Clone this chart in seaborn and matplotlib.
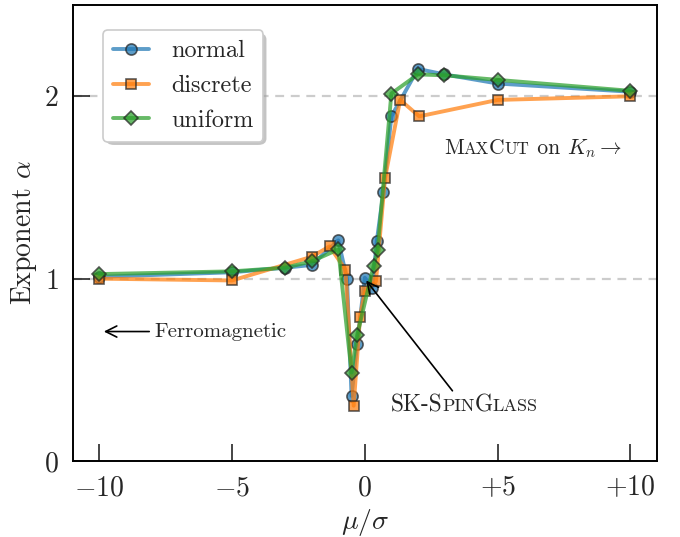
import numpy as np
import pandas as pd
import matplotlib
matplotlib.use("Agg")
import matplotlib.pyplot as plt
import seaborn as sns
from matplotlib.offsetbox import TextArea, HPacker, AnnotationBbox
from matplotlib.ticker import FuncFormatter, FixedLocator
from matplotlib.patches import FancyBboxPatch

# ---- data ----
normal_x = [-10, -5, -3, -2, -1, -0.67, -0.5, -0.29, 0, 0.28, 0.45, 0.7, 1, 2, 3, 5, 10]
normal_y = [1.01, 1.035, 1.06, 1.075, 1.21, 0.998, 0.357, 0.64, 1.005, 0.95, 1.205, 1.475, 1.89, 2.15, 2.12, 2.07, 2.025]

discrete_x = [-10, -5, -2, -1.33, -0.73, -0.42, -0.18, 0, 0.42, 0.76, 1.33, 2.05, 5, 10]
discrete_y = [1.0, 0.99, 1.12, 1.177, 1.05, 0.303, 0.79, 0.93, 0.985, 1.55, 1.98, 1.89, 1.98, 2.0]

uniform_x = [-10, -5, -3, -2, -1, -0.5, -0.29, 0.33, 0.48, 1, 2, 3, 5, 10]
uniform_y = [1.025, 1.04, 1.06, 1.095, 1.16, 0.485, 0.69, 1.07, 1.157, 2.015, 2.12, 2.115, 2.09, 2.03]

series_names = ["normal", "discrete", "uniform"]
series_markers = ["o", "s", "D"]
series_colors = ["#1f77b4", "#ff7f0e", "#2ca02c"]
x_ticks = [-10, -5, 0, 5, 10]
y_ticks = [0, 1, 2]

sns.set_style("white")
plt.rcParams["font.family"] = "serif"
plt.rcParams["font.serif"] = ["cmr10", "DejaVu Serif"]
plt.rcParams["mathtext.fontset"] = "cm"
plt.rcParams["axes.unicode_minus"] = False
plt.rcParams["axes.formatter.use_mathtext"] = True

fig = plt.figure(figsize=(3.4, 2.685), dpi=200)
ax = fig.add_axes([0.107, 0.1415, 0.859, 0.849])

ax.axhline(1, color="#cccccc", ls=(0, (4, 3)), lw=0.8, zorder=0)
ax.axhline(2, color="#cccccc", ls=(0, (4, 3)), lw=0.8, zorder=0)

data = [(normal_x, normal_y), (discrete_x, discrete_y), (uniform_x, uniform_y)]
for (xs, ys), name, mk, col in zip(data, series_names, series_markers, series_colors):
    ms = 3.6 if mk == "D" else (3.6 if mk == "s" else 4.0)
    sns.lineplot(x=xs, y=ys, ax=ax, color=col, marker=mk, markersize=ms,
                 markeredgecolor="#222222", markeredgewidth=0.6, lw=1.4,
                 alpha=0.72, label=name, sort=False, errorbar=None)

ax.set_xlim(-11, 11)
ax.set_ylim(0, 2.5)
ax.xaxis.set_major_locator(FixedLocator(x_ticks))
ax.yaxis.set_major_locator(FixedLocator(y_ticks))

def xfmt(v, pos):
    v = int(round(v))
    if v > 0:
        return r"$+%d$" % v
    if v < 0:
        return r"$-%d$" % (-v)
    return r"$0$"

ax.xaxis.set_major_formatter(FuncFormatter(xfmt))
ax.yaxis.set_major_formatter(FuncFormatter(lambda v, p: r"$%d$" % int(round(v))))
ax.tick_params(axis="both", direction="in", length=6, width=0.6, labelsize=10,
               bottom=True, left=True, top=False, right=False, pad=5)
for s in ax.spines.values():
    s.set_linewidth(0.7)
    s.set_color("black")

ax.set_xlabel(r"$\mu/\sigma$", fontsize=10, labelpad=2)
ax.set_ylabel(r"Exponent $\alpha$", fontsize=10, labelpad=2)

leg = ax.legend(loc="upper left", bbox_to_anchor=(0.039, 0.961), fontsize=8.7,
                frameon=True, fancybox=True, shadow=False,
                handlelength=1.5, handletextpad=0.9, borderpad=0.42,
                labelspacing=0.52, borderaxespad=0.3)
leg.get_frame().set_edgecolor("#cccccc")
leg.get_frame().set_linewidth(0.6)
leg.get_frame().set_alpha(1.0)
leg.set_zorder(10)

# annotations
def small_caps(parts, size, ratio=0.78):
    kids = []
    for txt, big in parts:
        kids.append(TextArea(txt, textprops=dict(fontsize=size if big else size * ratio,
                                                  family="serif")))
    return HPacker(children=kids, align="baseline", pad=0, sep=0)

ax.annotate("", xy=(-9.83, 0.71), xytext=(-8.12, 0.71),
            arrowprops=dict(arrowstyle="->", lw=0.6, color="black", shrinkA=0, shrinkB=0))
ax.text(-7.93, 0.71, "Ferromagnetic", fontsize=7.5, va="center", ha="left")

sk = small_caps([("SK-S", True), ("PIN", False), ("G", True), ("LASS", False)], 8.4)
ab = AnnotationBbox(sk, (0.96, 0.305), xycoords="data", frameon=False,
                    box_alignment=(0, 0.5), pad=0)
ax.add_artist(ab)
ax.annotate("", xy=(0.05, 0.99), xytext=(3.3, 0.385),
            arrowprops=dict(arrowstyle="->", lw=0.6, color="black", shrinkA=0, shrinkB=0))

mc = small_caps([("M", True), ("AX", False), ("C", True), ("UT", False),
                 (" on ", True), (r"$K_n$", True), (r"$\rightarrow$", True)], 7.8)
ab2 = AnnotationBbox(mc, (2.98, 1.715), xycoords="data", frameon=False,
                     box_alignment=(0, 0.5), pad=0)
ax.add_artist(ab2)

# custom light legend shadow (drawn in the axes, under the legend)
fig.canvas.draw()
bb = leg.get_frame().get_window_extent(fig.canvas.get_renderer())
off = 3.0
inv = ax.transAxes.inverted()
(x0, y0) = inv.transform((bb.x0 + off, bb.y0 - off))
(x1, y1) = inv.transform((bb.x1 + off, bb.y1 - off))
shadow = FancyBboxPatch((x0, y0), x1 - x0, y1 - y0, transform=ax.transAxes,
                        boxstyle="round,pad=0,rounding_size=0.014",
                        facecolor="0.62", edgecolor="none", alpha=0.6, zorder=9,
                        clip_on=False)
ax.add_patch(shadow)
fig.savefig("out.png", dpi=200)
